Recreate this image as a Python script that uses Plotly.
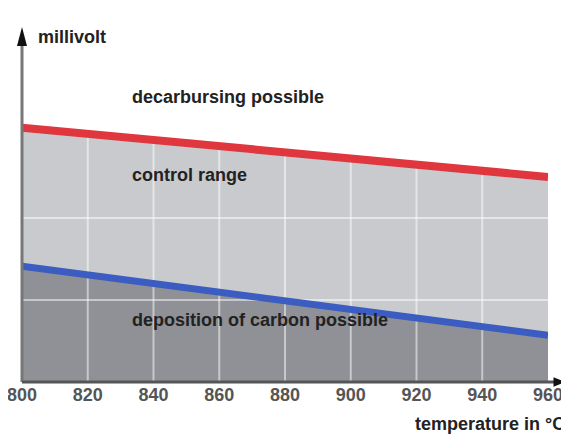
import plotly.graph_objects as go

# ---- data ----
temps = [800, 960]
upper_mv = [310, 250]   # decarbursing limit (red)
lower_mv = [141, 57]    # carbon deposition limit (blue)
tick_temps = [800, 820, 840, 860, 880, 900, 920, 940, 960]
tick_labels = ["800", "820", "840", "860", "880", "900", "920", "940", "960"]
grid_temps = [820, 840, 860, 880, 900, 920, 940]
grid_mv = [100, 200]
y_max = 423

region_labels = ["decarbursing possible", "control range", "deposition of carbon possible"]
region_mv = [347, 252, 75]
label_temp = 833

FONT = "Liberation Sans, Arial, sans-serif"

fig = go.Figure()

# dark region (below blue line)
fig.add_trace(go.Scatter(x=temps, y=lower_mv, mode="lines", line=dict(width=0),
                         fill="tozeroy", fillcolor="#8f9196", hoverinfo="skip"))
# light region (control range)
fig.add_trace(go.Scatter(x=temps, y=upper_mv, mode="lines", line=dict(width=0),
                         fill="tonexty", fillcolor="#c9cacd", hoverinfo="skip"))

# grid lines drawn over fills
gx, gy = [], []
for t in grid_temps:
    gx += [t, t, None]
    gy += [0, y_max, None]
for m in grid_mv:
    gx += [temps[0], temps[-1], None]
    gy += [m, m, None]
fig.add_trace(go.Scatter(x=gx, y=gy, mode="lines",
                         line=dict(color="rgba(255,255,255,0.5)", width=2),
                         hoverinfo="skip"))

# limit lines
fig.add_trace(go.Scatter(x=temps, y=upper_mv, mode="lines",
                         line=dict(color="#e0363d", width=8), hoverinfo="skip"))
fig.add_trace(go.Scatter(x=temps, y=lower_mv, mode="lines",
                         line=dict(color="#3b5cc0", width=7), hoverinfo="skip"))

# axis lines
fig.add_shape(type="line", xref="paper", yref="paper", x0=0, x1=0, y0=0, y1=0.98,
              line=dict(color="#777", width=3), layer="above")
fig.add_shape(type="line", xref="paper", yref="paper", x0=0, x1=1.02, y0=0, y1=0,
              line=dict(color="#555", width=3), layer="above")
# axis arrow heads (paper coords: plot is 526 x 347 px)
fig.add_shape(type="path", xref="paper", yref="paper", layer="above",
              path="M -0.0095 0.968 L 0.0095 0.968 L 0 1.023 Z",
              fillcolor="#111", line=dict(width=0))
fig.add_shape(type="path", xref="paper", yref="paper", layer="above",
              path="M 1.0105 -0.014 L 1.0105 0.014 L 1.033 0 Z",
              fillcolor="#111", line=dict(width=0))

# region labels
for txt, m in zip(region_labels, region_mv):
    fig.add_annotation(x=label_temp, y=m, text=f"<b>{txt}</b>", showarrow=False,
                       xanchor="left", yanchor="middle",
                       font=dict(family=FONT, size=18, color="#222"))

fig.add_annotation(xref="paper", yref="paper", x=0.026, y=0.995, text="<b>millivolt</b>",
                   showarrow=False, xanchor="left", yanchor="middle",
                   font=dict(family=FONT, size=18, color="#222"))
fig.add_annotation(xref="paper", yref="paper", x=1.037, y=-0.121,
                   text="<b>temperature in °C</b>", showarrow=False,
                   xanchor="right", yanchor="middle",
                   font=dict(family=FONT, size=18, color="#222"))

# page body has an 8px default margin, so margins are offset accordingly
fig.update_layout(
    width=569, height=434,
    margin=dict(l=14, r=29, t=27, b=60),
    paper_bgcolor="white", plot_bgcolor="white",
    showlegend=False,
    xaxis=dict(range=[800, 960], tickvals=tick_temps, ticktext=tick_labels,
               showgrid=False, zeroline=False, showline=False, ticks="",
               automargin=False, ticklabeloverflow="allow",
               tickfont=dict(family=FONT, size=18, color="#555", weight="bold")),
    yaxis=dict(range=[0, y_max], showgrid=False, zeroline=False, showline=False,
               showticklabels=False, ticks="", automargin=False),
)

fig.write_html("out.html")
